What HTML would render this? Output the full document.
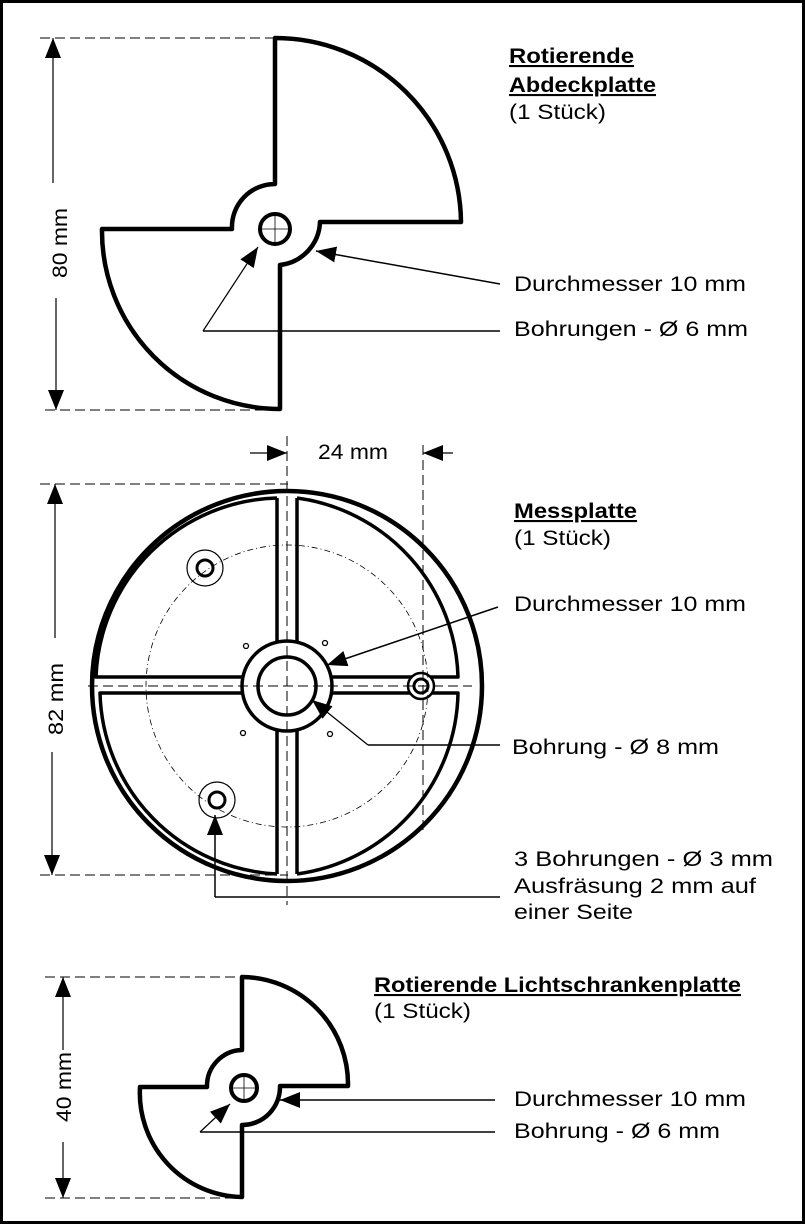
<!DOCTYPE html>
<html><head><meta charset="utf-8"><style>
html,body{margin:0;padding:0;background:#fff}
svg{display:block}
text{font-family:"Liberation Sans",Arial,sans-serif;font-size:21px;fill:#000}
.b{font-weight:bold;text-decoration:underline}
</style></head><body>
<svg width="805" height="1224" viewBox="0 0 805 1224" xmlns="http://www.w3.org/2000/svg">
<defs>
<marker id="A" viewBox="0 0 20 16" markerWidth="20" markerHeight="16" refX="20" refY="8" orient="auto" markerUnits="userSpaceOnUse"><path d="M0,0 L20,8 L0,16 Z"/></marker>
</defs>
<rect x="1.5" y="1.5" width="802" height="1221" fill="none" stroke="#000" stroke-width="3"/>

<!-- TOP PLATE -->
<path d="M275,38 A186,186 0 0 1 461,222 L320,222 A45,45 0 0 1 280,265 L280,409 A178,178 0 0 1 102,229 L232,229 A43,43 0 0 1 275,184 Z" fill="none" stroke="#000" stroke-width="4.5" stroke-linejoin="round"/>
<circle cx="275" cy="229" r="15" fill="none" stroke="#000" stroke-width="4"/>
<line x1="262" y1="229" x2="288" y2="229" stroke="#000" stroke-width="0.8"/>
<line x1="275" y1="216" x2="275" y2="242" stroke="#000" stroke-width="0.8"/>
<g stroke="#000" stroke-width="1" stroke-dasharray="10,5" fill="none">
<line x1="40" y1="38" x2="275" y2="38"/><line x1="45" y1="410" x2="278" y2="410"/>
</g>
<line x1="53" y1="183" x2="53" y2="38" stroke="#000" stroke-width="1.2" marker-end="url(#A)"/>
<line x1="56" y1="298" x2="56" y2="410" stroke="#000" stroke-width="1.2" marker-end="url(#A)"/>
<text transform="translate(67,243) rotate(-90)" text-anchor="middle" textLength="70" lengthAdjust="spacingAndGlyphs">80 mm</text>
<line x1="203" y1="331" x2="258" y2="247" stroke="#000" stroke-width="1.2" marker-end="url(#A)"/>
<line x1="203" y1="331" x2="500" y2="331" stroke="#000" stroke-width="1.5"/>
<line x1="500" y1="284" x2="316" y2="251" stroke="#000" stroke-width="1.5" marker-end="url(#A)"/>
<text x="509" y="63" class="b" textLength="125" lengthAdjust="spacingAndGlyphs">Rotierende </text>
<text x="509" y="92" class="b" textLength="147" lengthAdjust="spacingAndGlyphs">Abdeckplatte</text>
<text x="509" y="119" textLength="97" lengthAdjust="spacingAndGlyphs">(1 Stück)</text>
<text x="514" y="291" textLength="232" lengthAdjust="spacingAndGlyphs">Durchmesser 10 mm</text>
<text x="514" y="336" textLength="234" lengthAdjust="spacingAndGlyphs">Bohrungen - Ø 6 mm</text>

<!-- MIDDLE PLATE -->
<circle cx="287" cy="686" r="195" fill="none" stroke="#000" stroke-width="4.5"/>
<g fill="none" stroke="#000" stroke-width="3.5" stroke-linejoin="round">
<path d="M277,498 L277,643 M242,677 L96,677 A186,186 0 0 1 277,498"/>
<path d="M297,498 L297,643 M332,677 L458,677 A186,186 0 0 0 297,498"/>
<path d="M277,874 L277,730 M242,693 L100,693 A186,186 0 0 0 277,874"/>
<path d="M297,874 L297,730 M332,693 L458,693 A186,186 0 0 1 297,874"/>
<circle cx="287" cy="686" r="45"/>
<circle cx="287" cy="686" r="29"/>
</g>
<circle cx="421" cy="686" r="13" fill="#fff" stroke="#000" stroke-width="2.5"/>
<circle cx="421" cy="686" r="7" fill="none" stroke="#000" stroke-width="3"/>
<circle cx="205" cy="568" r="18" fill="none" stroke="#000" stroke-width="1.2"/>
<circle cx="205" cy="568" r="8" fill="none" stroke="#000" stroke-width="3"/>
<circle cx="217" cy="800" r="18" fill="none" stroke="#000" stroke-width="1.2"/>
<circle cx="217" cy="800" r="8" fill="none" stroke="#000" stroke-width="3"/>
<g fill="none" stroke="#000" stroke-width="1.3">
<circle cx="246" cy="646" r="2.5"/><circle cx="325" cy="643" r="2.5"/>
<circle cx="243" cy="733" r="2.5"/><circle cx="330" cy="734" r="2.5"/>
</g>
<circle cx="287" cy="686" r="141" fill="none" stroke="#000" stroke-width="0.8" stroke-dasharray="6,3,1,3"/>
<g stroke="#000" stroke-width="1" stroke-dasharray="10,5" fill="none">
<line x1="287" y1="436" x2="287" y2="905"/>
<line x1="88" y1="686" x2="472" y2="686"/>
<line x1="423" y1="445" x2="423" y2="830"/>
<line x1="40" y1="484" x2="288" y2="484"/>
<line x1="40" y1="875" x2="288" y2="875"/>
</g>
<line x1="250" y1="453" x2="287" y2="453" stroke="#000" stroke-width="1.2" marker-end="url(#A)"/>
<line x1="453" y1="453" x2="423" y2="453" stroke="#000" stroke-width="1.2" marker-end="url(#A)"/>
<text x="318" y="459" textLength="70" lengthAdjust="spacingAndGlyphs">24 mm</text>
<line x1="55" y1="638" x2="55" y2="484" stroke="#000" stroke-width="1.2" marker-end="url(#A)"/>
<line x1="52" y1="752" x2="52" y2="875" stroke="#000" stroke-width="1.2" marker-end="url(#A)"/>
<text transform="translate(63,699) rotate(-90)" text-anchor="middle" textLength="72" lengthAdjust="spacingAndGlyphs">82 mm</text>
<line x1="498" y1="607" x2="327" y2="665" stroke="#000" stroke-width="1.5" marker-end="url(#A)"/>
<line x1="368" y1="745" x2="312" y2="700" stroke="#000" stroke-width="1.2" marker-end="url(#A)"/>
<line x1="368" y1="745" x2="500" y2="745" stroke="#000" stroke-width="1.5"/>
<line x1="215" y1="897" x2="215" y2="815" stroke="#000" stroke-width="1.5" marker-end="url(#A)"/>
<line x1="215" y1="897" x2="500" y2="897" stroke="#000" stroke-width="1.5"/>
<text x="514" y="518" class="b" textLength="123" lengthAdjust="spacingAndGlyphs">Messplatte </text>
<text x="514" y="545" textLength="97" lengthAdjust="spacingAndGlyphs">(1 Stück)</text>
<text x="514" y="611" textLength="232" lengthAdjust="spacingAndGlyphs">Durchmesser 10 mm</text>
<text x="512" y="754" textLength="207" lengthAdjust="spacingAndGlyphs">Bohrung - Ø 8 mm</text>
<text x="514" y="866" textLength="259" lengthAdjust="spacingAndGlyphs">3 Bohrungen - Ø 3 mm</text>
<text x="514" y="893" textLength="242" lengthAdjust="spacingAndGlyphs">Ausfräsung 2 mm auf</text>
<text x="514" y="919" textLength="119" lengthAdjust="spacingAndGlyphs">einer Seite</text>

<!-- BOTTOM PLATE -->
<path d="M242,977 A107,107 0 0 1 348,1086 L280,1086 A38,38 0 0 1 242,1125 L242,1197 A104,104 0 0 1 140,1087 L207,1087 A36,36 0 0 1 242,1050 Z" fill="none" stroke="#000" stroke-width="4.5" stroke-linejoin="round"/>
<circle cx="244" cy="1088" r="13" fill="none" stroke="#000" stroke-width="4"/>
<line x1="233" y1="1088" x2="255" y2="1088" stroke="#000" stroke-width="0.8"/>
<line x1="244" y1="1077" x2="244" y2="1099" stroke="#000" stroke-width="0.8"/>
<g stroke="#000" stroke-width="1" stroke-dasharray="10,5" fill="none">
<line x1="45" y1="977" x2="242" y2="977"/><line x1="45" y1="1198" x2="242" y2="1198"/>
</g>
<line x1="63" y1="1050" x2="63" y2="977" stroke="#000" stroke-width="1.2" marker-end="url(#A)"/>
<line x1="63" y1="1142" x2="63" y2="1198" stroke="#000" stroke-width="1.2" marker-end="url(#A)"/>
<text transform="translate(71,1087) rotate(-90)" text-anchor="middle" textLength="70" lengthAdjust="spacingAndGlyphs">40 mm</text>
<line x1="495" y1="1100" x2="280" y2="1100" stroke="#000" stroke-width="1.5" marker-end="url(#A)"/>
<line x1="200" y1="1132" x2="230" y2="1104" stroke="#000" stroke-width="1.2" marker-end="url(#A)"/>
<line x1="200" y1="1132" x2="495" y2="1132" stroke="#000" stroke-width="1.5"/>
<text x="374" y="992" class="b" textLength="367" lengthAdjust="spacingAndGlyphs">Rotierende Lichtschrankenplatte</text>
<text x="374" y="1018" textLength="97" lengthAdjust="spacingAndGlyphs">(1 Stück)</text>
<text x="514" y="1106" textLength="232" lengthAdjust="spacingAndGlyphs">Durchmesser 10 mm</text>
<text x="514" y="1138" textLength="206" lengthAdjust="spacingAndGlyphs">Bohrung - Ø 6 mm</text>
</svg>
</body></html>
